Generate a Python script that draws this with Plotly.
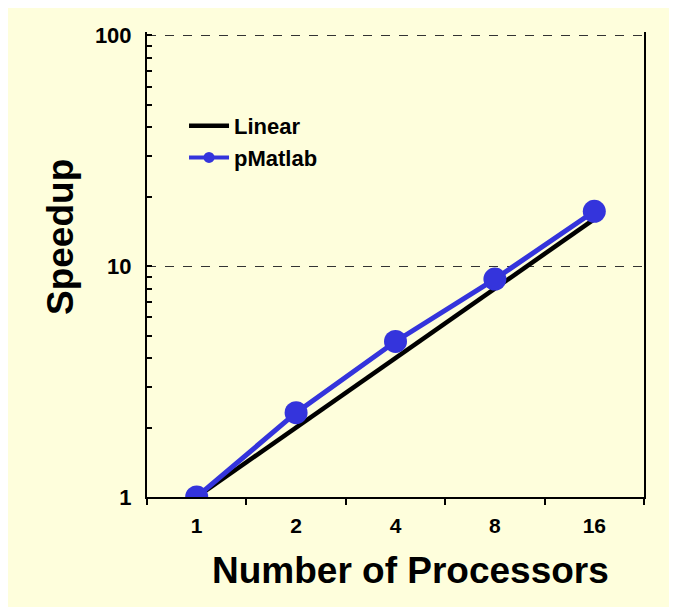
import plotly.graph_objects as go

processors = ["1", "2", "4", "8", "16"]
linear = [1, 2, 4, 8, 16]
pmatlab = [1, 2.32, 4.72, 8.8, 17.3]

BG = "#FEFEDC"
BLUE = "#3434DC"
FONT = "Liberation Sans, Arial, sans-serif"

fig = go.Figure()
fig.add_trace(go.Scatter(x=processors, y=linear, mode="lines", name="Linear",
                         line=dict(color="black", width=4.5)))
fig.add_trace(go.Scatter(x=processors, y=pmatlab, mode="lines+markers", name="pMatlab",
                         line=dict(color=BLUE, width=5),
                         marker=dict(color=BLUE, size=23), showlegend=False))
fig.add_trace(go.Scatter(x=[None], y=[None], mode="lines+markers", name="pMatlab",
                         line=dict(color=BLUE, width=4),
                         marker=dict(color=BLUE, size=11)))

W, H = 669, 599
ml, mr, mt, mb = 139, 33, 24, 110
pw, ph = W - ml - mr, H - mt - mb

fig.update_layout(
    width=W, height=H,
    margin=dict(l=ml, r=mr, t=mt, b=mb, pad=0),
    paper_bgcolor=BG, plot_bgcolor=BG,
    font=dict(family=FONT, color="black"),
    showlegend=True,
    legend=dict(x=0.0745, y=0.843, xanchor="left", yanchor="top",
                bgcolor="rgba(0,0,0,0)", itemwidth=40,
                font=dict(size=22, family=FONT, weight="bold"),
                tracegroupgap=0, itemsizing="trace"),
    xaxis=dict(
        type="category", range=[-0.5, 4.5],
        tickson="boundaries", ticks="outside", ticklen=6, tickwidth=1.5, tickcolor="black",
        showline=True, linecolor="black", linewidth=2, mirror=False,
        showgrid=False, zeroline=False,
        tickfont=dict(size=21, family=FONT, weight="bold"),
        ticklabelstandoff=9,
    ),
    yaxis=dict(
        type="log", range=[0, 2.015],
        tickvals=[1, 10, 100], ticktext=["1", "10", "100"],
        ticks="inside", ticklen=5, tickwidth=1.5, tickcolor="black",
        minor=dict(ticks="inside", ticklen=5, tickwidth=1.5, tickcolor="black",
                   showgrid=False, tickvals=[2, 3, 4, 5, 6, 7, 8, 9, 20, 30, 40, 50, 60, 70, 80, 90]),
        showline=True, linecolor="black", linewidth=2, mirror=True,
        showgrid=True, gridcolor="#333333", gridwidth=1, griddash="dash",
        zeroline=False,
        tickfont=dict(size=22, family=FONT, weight="bold"),
        ticklabelstandoff=9,
    ),
    annotations=[
        dict(text="Number of Processors", xref="paper", yref="paper",
             x=(410 - 147) / pw, y=0, yshift=-73, xanchor="center", yanchor="middle",
             showarrow=False, font=dict(size=37, family=FONT, weight="bold")),
        dict(text="Speedup", xref="paper", yref="paper", textangle=-90,
             x=(60 - 147) / pw, y=(497 - 237) / ph, xanchor="center", yanchor="middle",
             showarrow=False, font=dict(size=37, family=FONT, weight="bold")),
    ],
)

fig.write_html("out.html")
